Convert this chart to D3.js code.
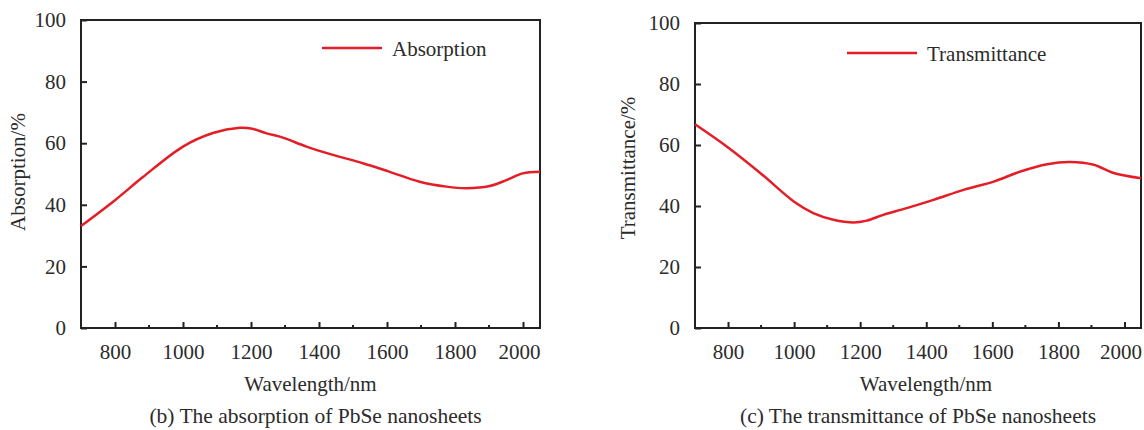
<!DOCTYPE html>
<html>
<head>
<meta charset="utf-8">
<script src="https://cdn.jsdelivr.net/npm/d3@7"></script>
<style>
  body { margin: 0; background: #fff; }
  svg text { font-family: "Liberation Serif", "Times New Roman", Times, serif; fill: #2b2b2b; }
</style>
</head>
<body>
<svg id="chart" width="1144" height="430"></svg>
<script>
// data
const wavelengthAbs = [700, 800, 882, 1000, 1088, 1167, 1200, 1246, 1294, 1363, 1441, 1529, 1608, 1696, 1775, 1834, 1902, 1951, 1999, 2050];
const absorption = [33.1, 41.5, 49, 58.9, 63.3, 65, 64.8, 63.2, 61.8, 58.9, 56.2, 53.5, 50.7, 47.5, 45.9, 45.4, 46.1, 48, 50.2, 50.7];

const wavelengthTr = [700, 800, 900, 1000, 1058, 1119, 1180, 1220, 1270, 1341, 1422, 1513, 1604, 1685, 1766, 1836, 1907, 1967, 2050];
const transmittance = [66.8, 59.2, 50.6, 41.4, 37.7, 35.5, 34.6, 35.2, 37.1, 39.3, 42, 45.3, 48, 51.3, 53.7, 54.4, 53.5, 50.8, 49.1];

const xMajorTicks = [800, 1000, 1200, 1400, 1600, 1800, 2000];
const xMinorTicks = [900, 1100, 1300, 1500, 1700, 1900];
const yTicks = [0, 20, 40, 60, 80, 100];

const svg = d3.select('#chart');
const lineColor = "#e41e26";
const axisColor = "#222";

function drawPanel(opts) {
    const { left, right, top, bottom, xs, ys, yLabel, yLabelX, yLabelY, legend, legendLine, legendY, caption } = opts;

    const x = d3.scaleLinear().domain([700, 2050]).range([left, right]);
    const y = d3.scaleLinear().domain([0, 100]).range([bottom, top]);

    const g = svg.append("g");

    // frame
    g.append("rect")
        .attr("x", left).attr("y", top)
        .attr("width", right - left).attr("height", bottom - top)
        .attr("fill", "none")
        .attr("stroke", axisColor)
        .attr("stroke-width", 2);

    // x axis (ticks pointing inward)
    const xAxis = g.append("g")
        .attr("transform", `translate(0,${bottom})`)
        .call(d3.axisBottom(x).tickValues(xMajorTicks).tickSize(-6).tickPadding(16).tickFormat(d3.format("d")));
    xAxis.select(".domain").remove();
    xAxis.selectAll(".tick line").attr("stroke", axisColor).attr("stroke-width", 2);
    xAxis.selectAll(".tick text")
        .style("font-size", "21px")
        .attr("dy", "0.71em")
        .attr("dx", d => d === 2000 ? -4 : 0);

    g.append("g")
        .attr("transform", `translate(0,${bottom})`)
        .selectAll("line")
        .data(xMinorTicks)
        .enter()
        .append("line")
        .attr("x1", d => x(d)).attr("x2", d => x(d))
        .attr("y1", 0).attr("y2", -3)
        .attr("stroke", axisColor)
        .attr("stroke-width", 2);

    // y axis
    const yAxis = g.append("g")
        .attr("transform", `translate(${left},0)`)
        .call(d3.axisLeft(y).tickValues(yTicks).tickSize(-6).tickPadding(15));
    yAxis.select(".domain").remove();
    yAxis.selectAll(".tick line").attr("stroke", axisColor).attr("stroke-width", 2);
    yAxis.selectAll(".tick text").style("font-size", "21px");

    // curve
    const line = d3.line()
        .x((d, i) => x(xs[i]))
        .y(d => y(d))
        .curve(d3.curveCatmullRom.alpha(0.5));

    g.append("path")
        .datum(ys)
        .attr("fill", "none")
        .attr("stroke", lineColor)
        .attr("stroke-width", 2.5)
        .attr("d", line);

    // legend
    g.append("line")
        .attr("x1", legendLine[0]).attr("x2", legendLine[1])
        .attr("y1", legendY).attr("y2", legendY)
        .attr("stroke", lineColor)
        .attr("stroke-width", 2.5);
    g.append("text")
        .attr("x", legendLine[1] + 10)
        .attr("y", legendY + 8)
        .style("font-size", "21px")
        .text(legend);

    // axis labels
    g.append("text")
        .attr("text-anchor", "middle")
        .attr("transform", `translate(${yLabelX},${yLabelY}) rotate(-90)`)
        .style("font-size", "21px")
        .text(yLabel);

    g.append("text")
        .attr("text-anchor", "middle")
        .attr("x", (left + right) / 2 + opts.xLabelShift)
        .attr("y", 391)
        .style("font-size", "21px")
        .text("Wavelength/nm");

    g.append("text")
        .attr("text-anchor", "middle")
        .attr("x", (left + right) / 2 + opts.captionShift)
        .attr("y", 423)
        .style("font-size", "21.5px")
        .text(caption);
}

drawPanel({
    left: 81, right: 540, top: 20, bottom: 328,
    xs: wavelengthAbs, ys: absorption,
    yLabel: "Absorption/%", yLabelX: 25, yLabelY: 172,
    legend: "Absorption", legendLine: [322, 382], legendY: 48,
    caption: "(b) The absorption of PbSe nanosheets",
    xLabelShift: 0, captionShift: 5
});

drawPanel({
    left: 695, right: 1141, top: 23, bottom: 328,
    xs: wavelengthTr, ys: transmittance,
    yLabel: "Transmittance/%", yLabelX: 635, yLabelY: 168,
    legend: "Transmittance", legendLine: [847, 917], legendY: 53,
    caption: "(c) The transmittance of PbSe nanosheets",
    xLabelShift: 8, captionShift: 0
});
</script>
</body>
</html>
